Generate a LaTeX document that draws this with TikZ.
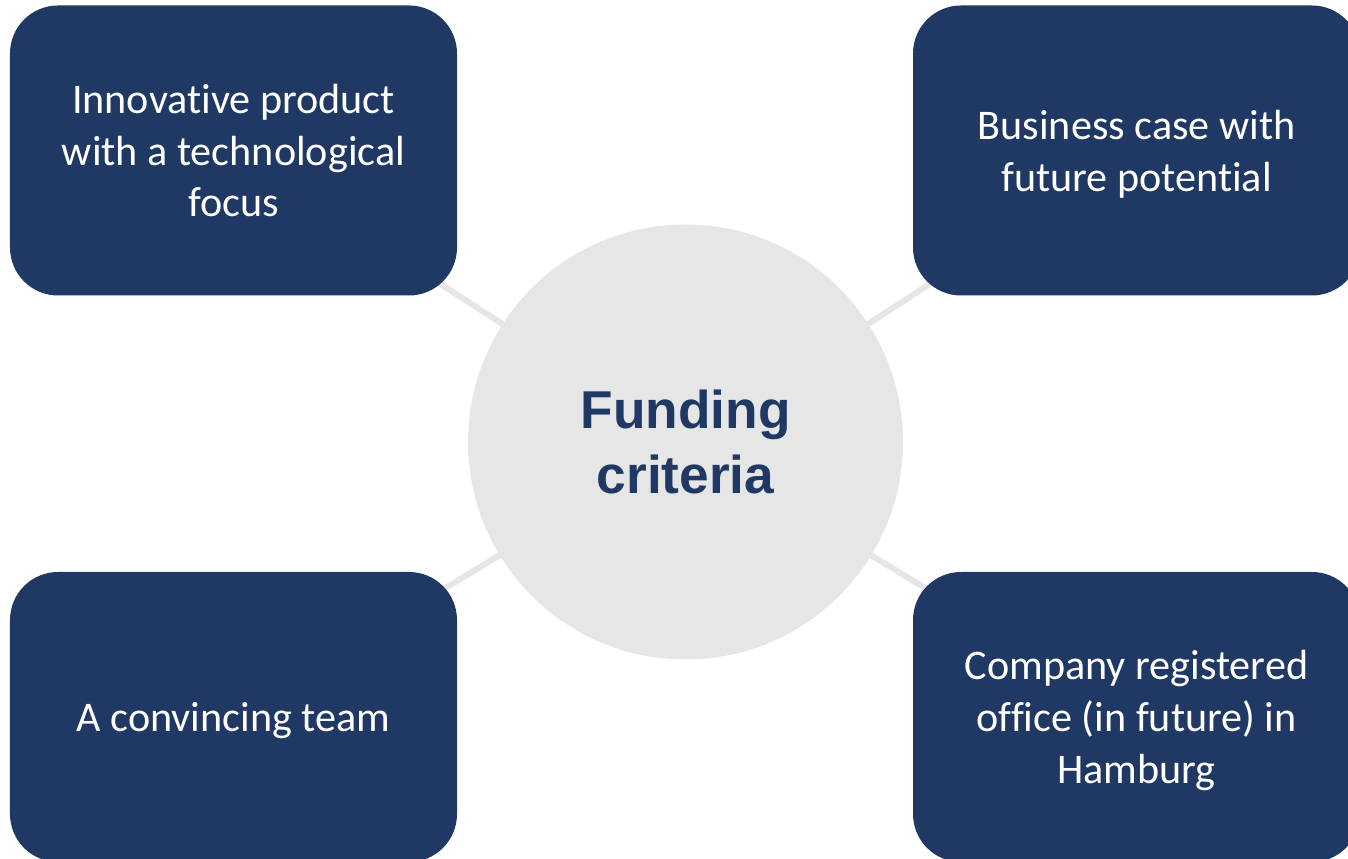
\documentclass[tikz,border=0pt]{standalone}
\usepackage{fontspec}
\setmainfont{Carlito}[Ligatures=NoCommon]
\newfontfamily\hubfont{Liberation Sans}
\usetikzlibrary{backgrounds}
\definecolor{navy}{HTML}{203864}
\definecolor{hubgray}{HTML}{E6E6E6}
\begin{document}
\begin{tikzpicture}[
    crit/.style={fill=navy,rounded corners=0.96cm,minimum width=8.94cm,
      minimum height=5.8cm,text=white,align=center,text depth=0pt,
      font=\fontsize{24}{29.5}\selectfont},
    hub/.style={circle,fill=hubgray,minimum size=8.7cm,text=navy,
      align=center,font=\hubfont\bfseries\fontsize{30.3}{36.5}\selectfont},
    spoke/.style={line width=0.12cm,hubgray}]
    \useasboundingbox (0,0) rectangle (26.96,17.18);
    \node[hub] (hub) at (13.71,8.34) {Funding\\criteria};
    \node[crit] (tl) at (4.67,14.17) {Innovative product\\with a technological\\focus};
    \node[crit] (tr) at (22.73,14.17) {Business case with\\future potential};
    \node[crit] (bl) at (4.67,2.84) {A convincing team};
    \node[crit] (br) at (22.73,2.84) {Company registered\\office (in future) in\\Hamburg};
    \begin{scope}[on background layer]
      \foreach \b in {tl,tr,bl,br}
        \draw[spoke] (\b.center) -- (hub.center);
    \end{scope}
  \end{tikzpicture}
\end{document}
